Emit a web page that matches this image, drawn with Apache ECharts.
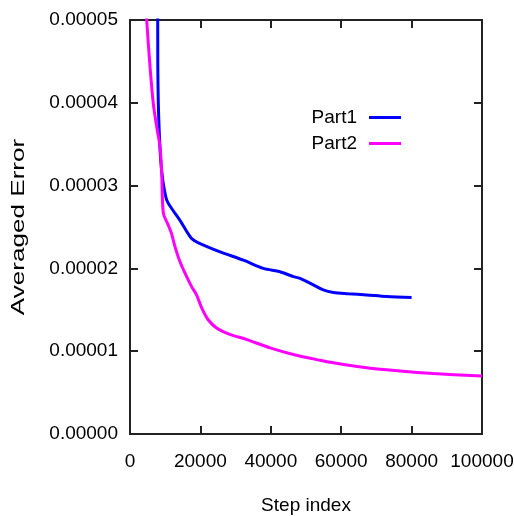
<!DOCTYPE html>
<html>
<head>
<meta charset="utf-8">
<script src="https://cdn.jsdelivr.net/npm/echarts@6/dist/echarts.min.js"></script>
<style>html,body{margin:0;padding:0;background:#fff;}#c{width:514px;height:516px;}</style>
</head>
<body>
<div id="c"></div>
<script>
// Part1 (blue)
var steps1 = [7800, 7870, 7900, 8040, 8320, 8720, 9290, 9940, 10400, 11400, 14200, 17500, 19900, 25600, 32200, 37900, 42600, 46400, 48300, 52100, 54900, 57800, 62000, 67200, 72900, 80000];
var part1 = [52.0e-6, 50.0e-6, 44.4e-6, 40.0e-6, 36.4e-6, 33.1e-6, 30.7e-6, 29.1e-6, 28.3e-6, 27.5e-6, 25.8e-6, 23.6e-6, 23.0e-6, 22.0e-6, 21.0e-6, 20.0e-6, 19.6e-6, 19.0e-6, 18.8e-6, 18.0e-6, 17.4e-6, 17.1e-6, 16.95e-6, 16.8e-6, 16.6e-6, 16.5e-6];
// Part2 (magenta)
var steps2 = [4500, 4740, 5680, 6620, 7580, 8520, 9000, 9470, 10900, 11800, 12800, 14200, 16100, 17500, 18900, 20400, 22200, 24600, 28000, 33200, 39800, 46400, 54000, 57800, 67200, 76700, 86100, 100000];
var part2 = [52.0e-6, 50.0e-6, 44.4e-6, 39.9e-6, 37.1e-6, 34.7e-6, 31.5e-6, 26.7e-6, 25.2e-6, 24.2e-6, 22.6e-6, 20.8e-6, 19.0e-6, 17.8e-6, 16.8e-6, 15.2e-6, 13.8e-6, 12.8e-6, 12.1e-6, 11.4e-6, 10.4e-6, 9.6e-6, 8.9e-6, 8.6e-6, 8.0e-6, 7.6e-6, 7.3e-6, 7.0e-6];
var seriesNames = ['Part1', 'Part2'];
var xTitle = 'Step index';
var yTitle = 'Averaged Error';

function pairs(xs, ys) { return xs.map(function (x, i) { return [x, ys[i]]; }); }

var font = 'Liberation Sans, Arial, sans-serif';
var axisLine = { show: true, onZero: false, lineStyle: { color: '#222', width: 2 } };
var tickStyle = { show: true, inside: true, length: 8, lineStyle: { color: '#222', width: 2 } };

var chart = echarts.init(document.getElementById('c'), null, { renderer: 'canvas' });
chart.setOption({
  animation: false,
  backgroundColor: '#fff',
  grid: { left: 130, right: 32, top: 20, bottom: 82, outerBoundsMode: 'none', containLabel: false,
    show: true, borderColor: '#222', borderWidth: 2, backgroundColor: 'transparent' },
  legend: {
    orient: 'vertical', align: 'right', right: 108, top: 103,
    icon: 'rect', itemWidth: 32, itemHeight: 3, itemGap: 7,
    textStyle: { fontFamily: font, fontSize: 19, color: '#000', padding: [0, 7, 0, 0] },
    data: seriesNames
  },
  xAxis: [{
    type: 'value', min: 0, max: 100000, interval: 20000,
    axisLine: axisLine, axisTick: tickStyle, splitLine: { show: false },
    axisLabel: { fontFamily: font, fontSize: 19, color: '#000', margin: 18, showMaxLabel: true,
      formatter: function (v) { return String(v); } },
    name: xTitle, nameLocation: 'middle', nameGap: 62,
    nameTextStyle: { fontFamily: font, fontSize: 19, color: '#000' }
  }, {
    type: 'value', position: 'top', min: 0, max: 100000, interval: 20000,
    axisLine: axisLine, axisTick: tickStyle, splitLine: { show: false }, axisLabel: { show: false }
  }],
  yAxis: [{
    type: 'value', min: 0, max: 0.00005, interval: 0.00001,
    axisLine: axisLine, axisTick: tickStyle, splitLine: { show: false },
    axisLabel: { fontFamily: font, fontSize: 19, color: '#000', margin: 12,
      formatter: function (v) { return v.toFixed(5); } }
  }, {
    type: 'value', position: 'right', min: 0, max: 0.00005, interval: 0.00001,
    axisLine: axisLine, axisTick: tickStyle, splitLine: { show: false }, axisLabel: { show: false }
  }],
  graphic: [{
    type: 'text', x: 19, y: 227, rotation: Math.PI / 2, scaleX: 1.45,
    style: { text: yTitle, fontFamily: font, fontSize: 18, fill: '#000', align: 'center', verticalAlign: 'middle' }
  }],
  series: [{
    name: seriesNames[0], type: 'line', xAxisIndex: 0, yAxisIndex: 0,
    data: pairs(steps1, part1), symbol: 'none', smooth: 0.3, clip: true,
    lineStyle: { color: '#0000ff', width: 3 }, itemStyle: { color: '#0000ff' }
  }, {
    name: seriesNames[1], type: 'line', xAxisIndex: 0, yAxisIndex: 0,
    data: pairs(steps2, part2), symbol: 'none', smooth: 0.3, clip: true,
    lineStyle: { color: '#ff00ff', width: 3 }, itemStyle: { color: '#ff00ff' }
  }, {
    name: 'mirror', type: 'line', xAxisIndex: 1, yAxisIndex: 1, data: [], silent: true
  }]
});
</script>
</body>
</html>
